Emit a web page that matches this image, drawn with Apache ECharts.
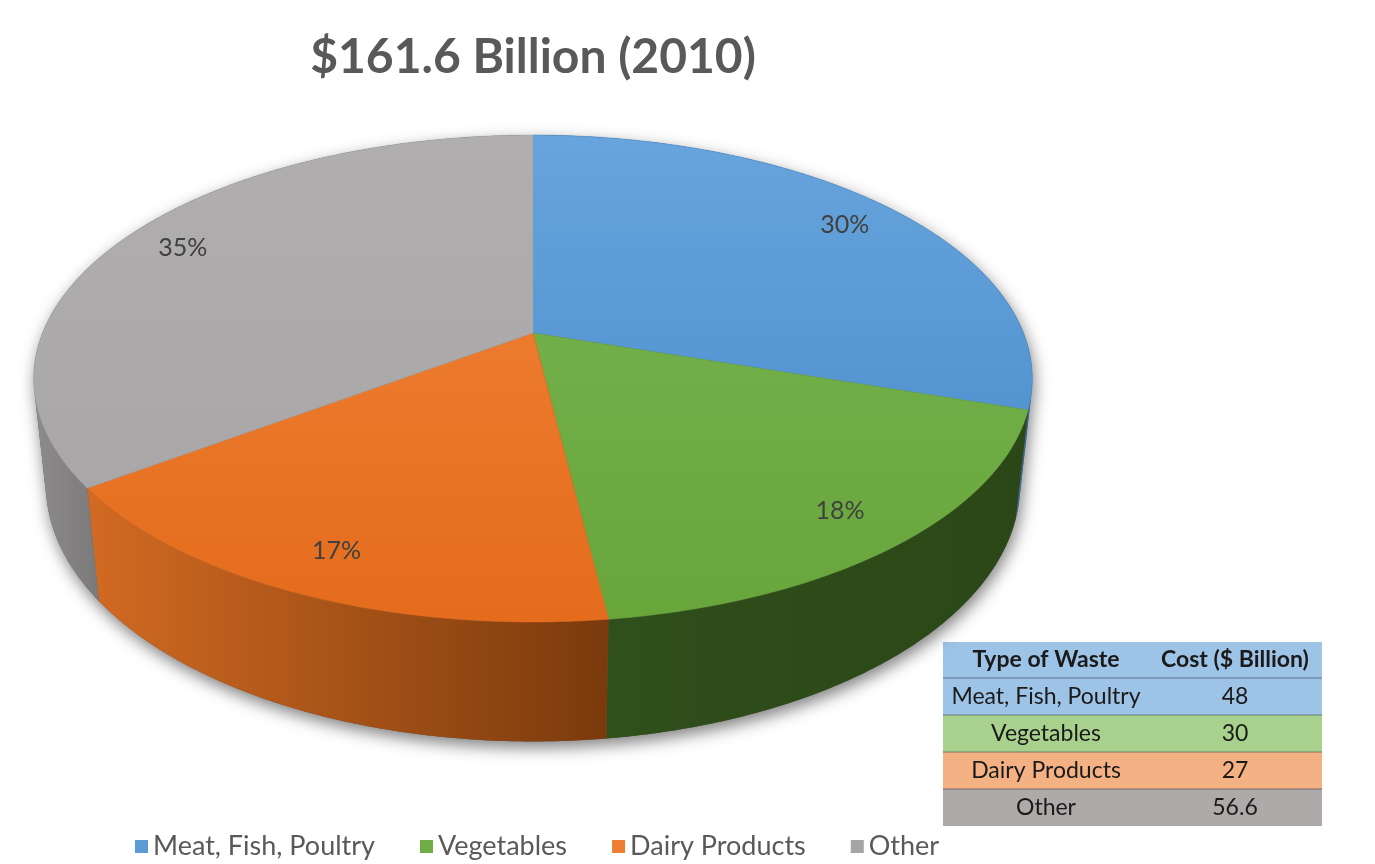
<!DOCTYPE html>
<html>
<head>
<meta charset="utf-8">
<script src="https://cdn.jsdelivr.net/npm/echarts@6/dist/echarts.min.js"></script>
<style>
html,body{margin:0;padding:0;background:#fff;}
#chart{width:1375px;height:864px;}
</style>
</head>
<body>
<div id="chart"></div>
<script>
// ---- data ----
const chartTitle = '$161.6 Billion (2010)';
const categories = ['Meat, Fish, Poultry', 'Vegetables', 'Dairy Products', 'Other'];
const shares = [30, 18, 17, 35];          // pie slice percentages as shown
const costs = [48, 30, 27, 56.6];         // table values ($ Billion)
const tableHeader = ['Type of Waste', 'Cost ($ Billion)'];

// ---- styles ----
const FONT = 'Lato, "Noto Sans", sans-serif';
const baseColors = ['#5b9bd5', '#70ad47', '#ed7d31', '#a5a5a5'];
const topColors = [['#68a4dd', '#4388c8'], ['#79b551', '#68a63c'], ['#f2843a', '#e46c1c'], ['#b0aeae', '#a6a4a4']];
const wallColors = [['#3a6fa3', '#2f5f8f'], ['#2f4f1b', '#2b4717'], ['#d26a22', '#7a3a0c'], ['#8d8b8b', '#7b7979']];
const rowColors = ['#9dc3e6', '#9dc3e6', '#a9d18e', '#f4b183', '#aeaaaa'];

// ---- projection of a tilted disc (perspective) ----
const CX = 533, CY = 333, FX = 2315, FY = 2362, D = 4.72, PHI = 28 * Math.PI / 180, H = 0.242;
const cP = Math.cos(PHI), sP = Math.sin(PHI);
const TAU = Math.PI * 2;
const VIS0 = Math.acos(-1 / (D * cP)), VIS1 = TAU - VIS0;
function proj(r, a, z) {
  const X = r * Math.sin(a), Y = r * Math.cos(a);
  const depth = D + Y * cP - z * sP;
  return [CX + FX * X / depth, CY - FY * (Y * sP + z * cP) / depth];
}
function arc(r, a0, a1, z) {
  const n = Math.max(2, Math.ceil(Math.abs(a1 - a0) / 0.01));
  const pts = [];
  for (let k = 0; k <= n; k++) pts.push(proj(r, a0 + (a1 - a0) * k / n, z));
  return pts;
}
const total = shares.reduce((s, v) => s + v, 0);

function renderSlice(i, value) {
  let before = 0;
  for (let j = 0; j < i; j++) before += shares[j];
  const a0 = before / total * TAU, a1 = (before + value) / total * TAU;
  const children = [];
  const w0 = Math.max(a0, VIS0), w1 = Math.min(a1, VIS1);
  if (w1 > w0) {
    const topPts = arc(1, w0, w1, 0);
    const botPts = arc(1, w1, w0, -H);
    const pts = topPts.concat(botPts);
    const xs = pts.map(p => p[0]);
    children.push({
      type: 'polygon',
      shape: { points: pts },
      style: {
        fill: { type: 'linear', x: Math.min(...xs), y: 0, x2: Math.max(...xs), y2: 0, global: true,
          colorStops: [{ offset: 0, color: wallColors[i][0] }, { offset: 1, color: wallColors[i][1] }] },
        stroke: null
      }
    });
  }
  const face = [proj(0, 0, 0)].concat(arc(1, a0, a1, 0));
  children.push({
    type: 'polygon',
    shape: { points: face },
    style: {
      fill: { type: 'linear', x: 0, y: 135, x2: 0, y2: 622, global: true,
        colorStops: [{ offset: 0, color: topColors[i][0] }, { offset: 1, color: topColors[i][1] }] },
      stroke: topColors[i][1], lineWidth: 0.5
    }
  });
  const lp = proj(0.86, (a0 + a1) / 2, 0);
  children.push({
    type: 'text',
    style: {
      text: Math.round(value / total * 100) + '%',
      x: lp[0], y: lp[1],
      align: 'center', verticalAlign: 'middle',
      textAlign: 'center', textVerticalAlign: 'middle',
      fill: '#404040', fontSize: 25, fontFamily: FONT
    }
  });
  return { type: 'group', children };
}

function renderShadow() {
  const pts = arc(1, VIS0, VIS1, -H).concat(arc(1, VIS1, VIS0 + TAU, 0));
  return {
    type: 'polygon',
    shape: { points: pts },
    style: { fill: 'rgba(90,90,90,1)', shadowBlur: 16, shadowOffsetY: 6, shadowOffsetX: 2, shadowColor: 'rgba(0,0,0,0.5)' }
  };
}

const series = [{
  type: 'custom', name: '_shadow', coordinateSystem: 'none', silent: true, z: 1,
  data: [[total]], renderItem: () => renderShadow()
}].concat(categories.map((name, i) => ({
  type: 'custom', name, coordinateSystem: 'none', silent: true, z: 2,
  itemStyle: { color: baseColors[i] },
  data: [[shares[i]]],
  renderItem: (params, api) => renderSlice(i, api.value(0))
})));

// ---- table (graphic) ----
const TX = 943, TW = 379, C1 = 1046, C2 = 1235;
const rowH = [36, 37, 37, 37, 37];
const rowsText = [tableHeader].concat(categories.map((c, i) => [c, String(costs[i])]));
const graphic = [];
let ty = 642;
rowsText.forEach((row, r) => {
  graphic.push({ type: 'rect', shape: { x: TX, y: ty, width: TW, height: rowH[r] }, style: { fill: rowColors[r] }, silent: true });
  if (r > 0) graphic.push({ type: 'line', shape: { x1: TX, y1: ty, x2: TX + TW, y2: ty }, style: { stroke: 'rgba(40,50,60,0.35)', lineWidth: 1.5 }, silent: true });
  [C1, C2].forEach((cx, c) => {
    graphic.push({
      type: 'text', silent: true,
      style: { text: row[c], x: cx, y: ty + rowH[r] / 2, align: 'center', verticalAlign: 'middle',
        fill: '#1a1a1a', fontSize: 23, fontFamily: FONT, fontWeight: r === 0 ? 'bold' : 'normal' }
    });
  });
  ty += rowH[r];
});

const chart = echarts.init(document.getElementById('chart'), null, { renderer: 'canvas' });
chart.setOption({
  backgroundColor: '#ffffff',
  animation: false,
  title: {
    text: chartTitle, left: 528, top: 53, textAlign: 'center', textVerticalAlign: 'middle',
    textStyle: { fontFamily: FONT, fontWeight: 'bold', fontSize: 48, color: '#595959' }
  },
  legend: {
    data: categories, left: 130, top: 828, icon: 'rect', itemWidth: 13, itemHeight: 13, itemGap: 45,
    selectedMode: false,
    textStyle: { fontFamily: FONT, fontSize: 27, color: '#595959' }
  },
  graphic,
  series
});
</script>
</body>
</html>
